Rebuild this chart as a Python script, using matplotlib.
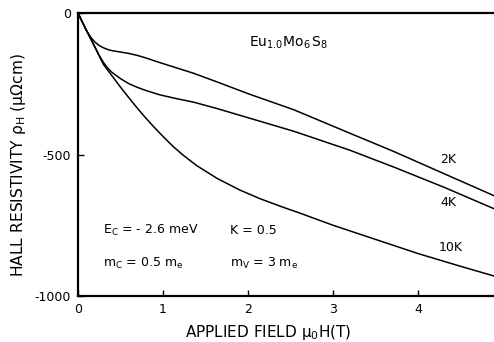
import matplotlib
matplotlib.use("Agg")
import matplotlib.pyplot as plt

plt.rcParams['font.family'] = ['DejaVu Sans']
plt.rcParams['mathtext.default'] = 'regular'
plt.rcParams['axes.unicode_minus'] = False

# Data
x_2K = [0, 0.05, 0.1, 0.15, 0.2, 0.25, 0.3, 0.35, 0.4, 0.5, 0.6, 0.7, 0.8, 0.96, 1.15, 1.36, 1.64, 2.0, 2.54, 3.12, 3.72, 4.3, 4.89, 5.0]
y_2K = [0, -32, -62, -86, -103, -115, -123, -129, -133, -138, -143, -150, -159, -175, -193, -213, -244, -285, -342, -415, -490, -567, -645, -660]

x_4K = [0, 0.1, 0.2, 0.25, 0.3, 0.35, 0.4, 0.5, 0.6, 0.7, 0.8, 0.96, 1.15, 1.36, 1.64, 2.0, 2.54, 3.2, 3.72, 4.3, 4.89, 5.0]
y_4K = [0, -62, -120, -150, -175, -195, -210, -232, -250, -263, -274, -289, -302, -315, -338, -370, -418, -485, -545, -615, -691, -705]

x_10K = [0, 0.1, 0.2, 0.3, 0.4, 0.5, 0.6, 0.7, 0.8, 0.9, 1.0, 1.12, 1.24, 1.4, 1.64, 1.9, 2.14, 2.4, 2.61, 3.0, 3.5, 4.0, 4.5, 4.89, 5.0]
y_10K = [0, -62, -122, -182, -222, -262, -300, -337, -372, -405, -436, -472, -503, -540, -585, -625, -656, -685, -707, -750, -800, -850, -895, -929, -940]

x_ticks = [0, 1, 2, 3, 4]
y_ticks = [0, -500, -1000]
y_ticklabels = ['0', '-500', '-1000']

fig = plt.figure(figsize=(4.94, 3.42), dpi=100)
ax = fig.add_axes([78/494, 46/342, 425/494, 283/342])

lw = 1.1
ax.plot(x_2K, y_2K, color='black', lw=lw)
ax.plot(x_4K, y_4K, color='black', lw=lw)
ax.plot(x_10K, y_10K, color='black', lw=lw)

ax.set_xlim(0, 5)
ax.set_ylim(-1000, 0)
ax.set_xticks(x_ticks)
ax.set_xticklabels([str(t) for t in x_ticks])
ax.set_yticks(y_ticks)
ax.set_yticklabels(y_ticklabels)
ax.tick_params(direction='in', length=4, width=1, labelsize=9, pad=5)
for s in ax.spines.values():
    s.set_linewidth(1.6)

ax.set_xlabel(r'APPLIED FIELD $\mu_0$H(T)', fontsize=11)
ax.xaxis.set_label_coords(0.447, -0.095)
ax.set_ylabel(r'HALL RESISTIVITY $\rho_H$ ($\mu\Omega$cm)', fontsize=11.2)
ax.yaxis.set_label_coords(-0.118, 0.463)

ax.text(2.48, -106, r'$Eu_{1.0}Mo_6\,S_8$', fontsize=10, ha='center', va='center')
ax.text(4.36, -519, '2K', fontsize=9, ha='center', va='center')
ax.text(4.36, -671, '4K', fontsize=9, ha='center', va='center')
ax.text(4.39, -830, '10K', fontsize=9, ha='center', va='center')
ax.text(0.29, -767, r'$E_C$ = - 2.6 meV', fontsize=9, ha='left', va='center')
ax.text(1.79, -767, 'K = 0.5', fontsize=9, ha='left', va='center')
ax.text(0.29, -885, r'$m_C$ = 0.5 $m_e$', fontsize=9, ha='left', va='center')
ax.text(1.79, -885, r'$m_V$ = 3 $m_e$', fontsize=9, ha='left', va='center')

fig.savefig('out.png', dpi=100)
